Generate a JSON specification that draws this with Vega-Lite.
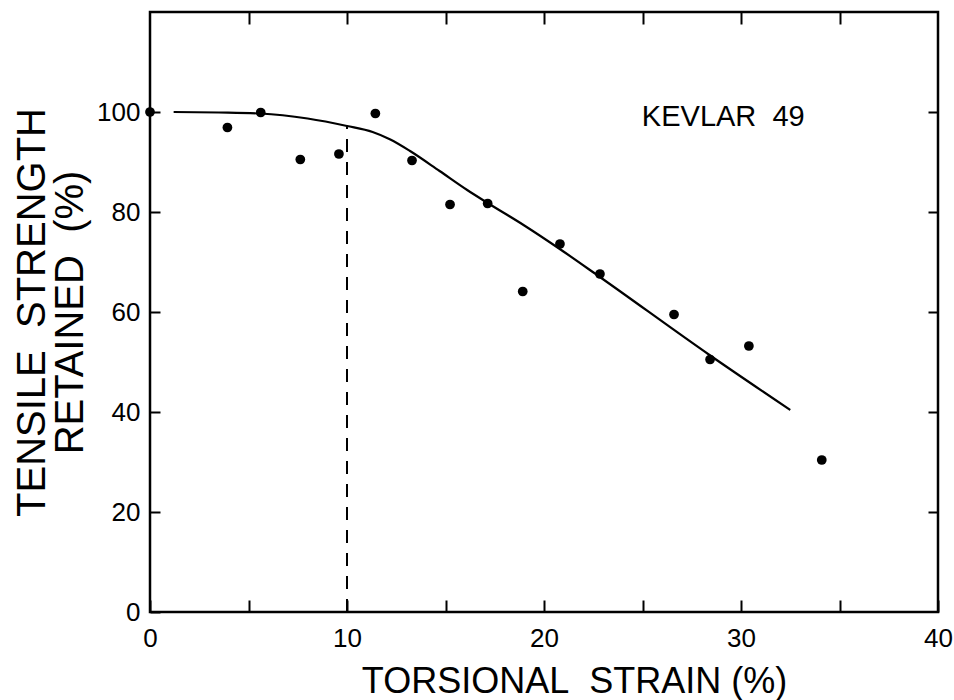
{
  "$schema": "https://vega.github.io/schema/vega-lite/v6.json",
  "width": 788,
  "height": 600,
  "autosize": {"type": "none"},
  "padding": {"left": 150, "top": 12, "right": 16, "bottom": 88},
  "background": "white",
  "config": {
    "view": {"stroke": "black", "strokeWidth": 2.5},
    "axis": {
      "grid": false,
      "domain": false,
      "tickColor": "black",
      "tickWidth": 2,
      "labelColor": "black",
      "labelFont": "Liberation Sans",
      "labelFontSize": 26,
      "titleFont": "Liberation Sans",
      "titleColor": "black",
      "titleFontWeight": "normal"
    }
  },
  "datasets": {
    "points": [
      {"strain": 0, "strength": 100},
      {"strain": 3.93, "strength": 96.9},
      {"strain": 5.62, "strength": 99.9},
      {"strain": 7.63, "strength": 90.5},
      {"strain": 9.59, "strength": 91.6},
      {"strain": 11.44, "strength": 99.7},
      {"strain": 13.3, "strength": 90.3},
      {"strain": 15.23, "strength": 81.5},
      {"strain": 17.14, "strength": 81.7},
      {"strain": 18.92, "strength": 64.1},
      {"strain": 20.81, "strength": 73.6},
      {"strain": 22.84, "strength": 67.6},
      {"strain": 26.6, "strength": 59.5},
      {"strain": 28.43, "strength": 50.5},
      {"strain": 30.4, "strength": 53.2},
      {"strain": 34.1, "strength": 30.4}
    ],
    "curve": [
      {"strain": 1.2, "strength": 100},
      {"strain": 3.5, "strength": 99.9},
      {"strain": 5.6, "strength": 99.7},
      {"strain": 8, "strength": 98.7},
      {"strain": 10, "strength": 97.2},
      {"strain": 11.3, "strength": 96.0},
      {"strain": 12.2, "strength": 94.5},
      {"strain": 13.2, "strength": 92.2},
      {"strain": 14.7, "strength": 88.2},
      {"strain": 16.1, "strength": 84.4},
      {"strain": 17.1, "strength": 81.9},
      {"strain": 19, "strength": 77.3},
      {"strain": 20.8, "strength": 72.6},
      {"strain": 22.8, "strength": 67.1},
      {"strain": 28.4, "strength": 51.4},
      {"strain": 32.5, "strength": 40.4}
    ],
    "dash": [{"strain": 10, "lo": 0, "hi": 97.4}],
    "label": [{"strain": 29.1, "strength": 99, "text": "KEVLAR\u00a0\u00a049"}]
  },
  "layer": [
    {
      "data": {"name": "dash"},
      "mark": {"type": "rule", "color": "black", "strokeWidth": 2, "strokeDash": [13, 10]},
      "encoding": {
        "x": {"field": "strain", "type": "quantitative", "axis": null},
        "y": {"field": "lo", "type": "quantitative", "axis": null},
        "y2": {"field": "hi"}
      }
    },
    {
      "data": {"name": "curve"},
      "mark": {"type": "line", "color": "black", "strokeWidth": 2.2, "interpolate": "monotone"},
      "encoding": {
        "x": {
          "field": "strain", "type": "quantitative",
          "scale": {"domain": [0, 40], "nice": false, "zero": false},
          "axis": {
            "orient": "bottom",
            "values": [0, 5, 10, 15, 20, 25, 30, 35, 40],
            "labelExpr": "datum.value % 10 === 0 ? datum.label : ''",
            "tickSize": -12,
            "labelPadding": 25,
            "labelOverlap": false,
            "labelFlush": false,
            "labelBound": false,
            "title": "TORSIONAL\u00a0\u00a0STRAIN (%)",
            "titleFontSize": 36,
            "titleX": 424,
            "titleY": 80,
            "titleAlign": "center",
            "titleBaseline": "alphabetic"
          }
        },
        "y": {
          "field": "strength", "type": "quantitative",
          "scale": {"domain": [0, 120], "nice": false, "zero": false},
          "axis": {
            "orient": "left",
            "values": [0, 20, 40, 60, 80, 100],
            "tickSize": -10,
            "labelPadding": 20,
            "labelOverlap": false,
            "labelFlush": false,
            "title": ["TENSILE\u00a0\u00a0STRENGTH", "RETAINED\u00a0\u00a0(%)"],
            "titleFontSize": 40,
            "titleLineHeight": 38,
            "titleAngle": -90,
            "titleX": -138,
            "titleY": 300,
            "titleAlign": "center",
            "titleBaseline": "top"
          }
        }
      }
    },
    {
      "data": {"name": "points"},
      "mark": {"type": "point", "filled": true, "color": "black", "opacity": 1, "size": 95},
      "encoding": {
        "x": {
          "field": "strain", "type": "quantitative",
          "axis": {"orient": "top", "values": [5, 10, 15, 20, 25, 30, 35], "labels": false, "tickSize": -12, "title": null}
        },
        "y": {
          "field": "strength", "type": "quantitative",
          "axis": {"orient": "right", "values": [20, 40, 60, 80, 100], "labels": false, "tickSize": -10, "title": null}
        }
      }
    },
    {
      "data": {"name": "label"},
      "mark": {"type": "text", "font": "Liberation Sans", "fontSize": 29, "color": "black", "align": "center", "baseline": "middle"},
      "encoding": {
        "x": {"field": "strain", "type": "quantitative", "axis": null},
        "y": {"field": "strength", "type": "quantitative", "axis": null},
        "text": {"field": "text"}
      }
    }
  ],
  "resolve": {"axis": {"x": "independent", "y": "independent"}}
}
